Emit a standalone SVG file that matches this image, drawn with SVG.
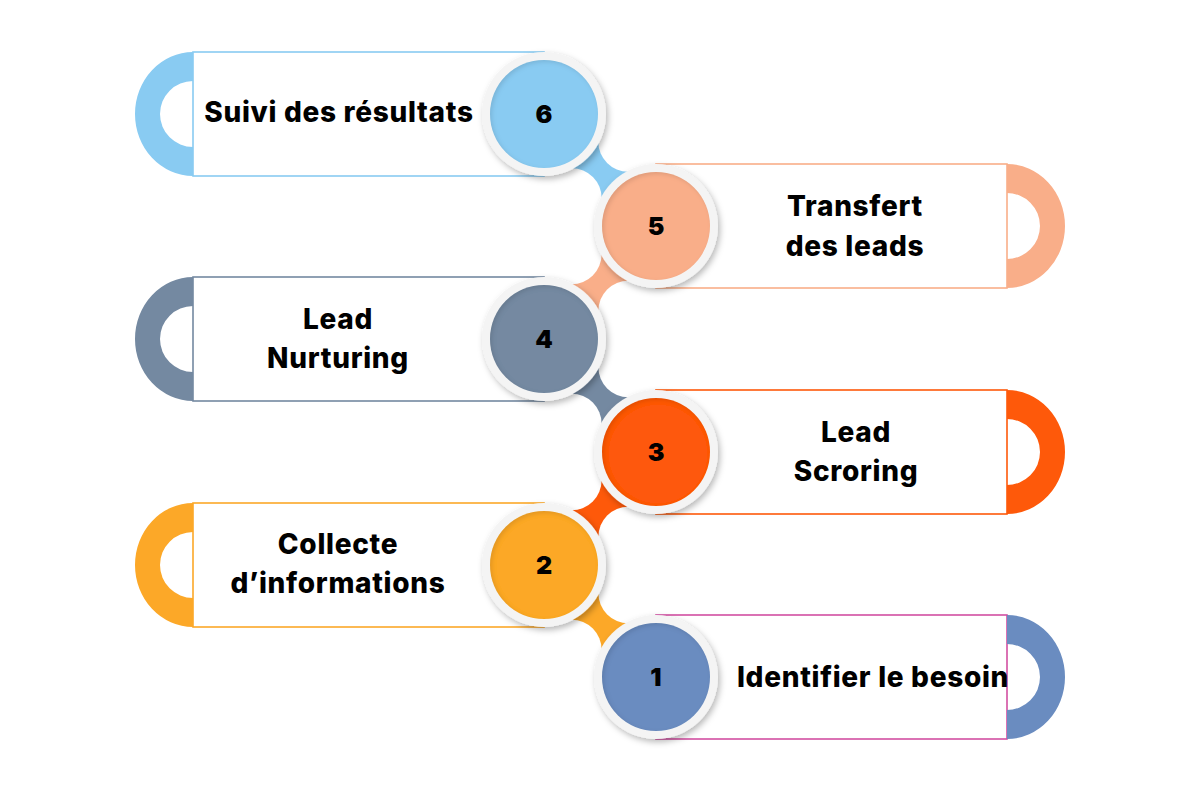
<svg xmlns="http://www.w3.org/2000/svg" width="1200" height="800" viewBox="0 0 1200 800">
<defs>
<style>
.lbl{font-family:Inter,"Open Sans","Liberation Sans",sans-serif;font-weight:800;font-size:28px;letter-spacing:0.7px;fill:#000;text-anchor:middle}
.num{font-family:Inter,"Open Sans","Liberation Sans",sans-serif;font-weight:900;font-size:25px;fill:#000;text-anchor:middle}
.box{fill:#fff;stroke-width:1.6}
.ring{fill:#f4f4f4;filter:url(#ds)}
.carve{fill:#fff}
</style>
<filter id="ds" x="-20%" y="-20%" width="150%" height="150%">
<feDropShadow dx="2" dy="3" stdDeviation="3" flood-color="#000" flood-opacity="0.28"/>
</filter>
<filter id="ins" x="-10%" y="-10%" width="120%" height="120%">
<feGaussianBlur in="SourceAlpha" stdDeviation="2" result="b"/>
<feOffset in="b" dx="2" dy="2" result="o"/>
<feComposite in="SourceAlpha" in2="o" operator="out" result="inv"/>
<feFlood flood-color="#000" flood-opacity="0.22"/>
<feComposite in2="inv" operator="in" result="sh"/>
<feMerge><feMergeNode in="SourceGraphic"/><feMergeNode in="sh"/></feMerge>
</filter>
</defs>
<rect width="1200" height="800" fill="#fff"/>

<g id="connectors">
<line x1="544" y1="114" x2="656" y2="226" stroke="#89CBF2" stroke-width="70"/>
<circle class="carve" cx="628.3" cy="141.7" r="30"/>
<circle class="carve" cx="571.7" cy="198.3" r="30"/>
<line x1="656" y1="226" x2="544" y2="339" stroke="#F9AE89" stroke-width="70"/>
<circle class="carve" cx="628.4" cy="310.7" r="30"/>
<circle class="carve" cx="571.6" cy="254.3" r="30"/>
<line x1="544" y1="339" x2="656" y2="452" stroke="#7489A1" stroke-width="70"/>
<circle class="carve" cx="628.4" cy="367.3" r="30"/>
<circle class="carve" cx="571.6" cy="423.7" r="30"/>
<line x1="656" y1="452" x2="544" y2="565" stroke="#FE590A" stroke-width="70"/>
<circle class="carve" cx="628.4" cy="536.7" r="30"/>
<circle class="carve" cx="571.6" cy="480.3" r="30"/>
<line x1="544" y1="565" x2="656" y2="678" stroke="#FCA828" stroke-width="70"/>
<circle class="carve" cx="628.4" cy="593.3" r="30"/>
<circle class="carve" cx="571.6" cy="649.7" r="30"/>
</g>

<g id="step6">
<rect class="box" x="193" y="52" width="351" height="124" stroke="#89CBF2"/>
<path d="M193 52 A58 62 0 0 0 193 176 L193 147 A33 33 0 0 1 193 81 Z" fill="#89CBF2"/>
<text class="lbl" x="339" y="122">Suivi des résultats</text>
<circle class="ring" cx="544" cy="114" r="62"/>
<circle cx="544" cy="114" r="54" fill="#89CBF2" filter="url(#ins)"/>
<text class="num" x="544" y="123">6</text>
</g>

<g id="step5">
<rect class="box" x="656" y="164" width="351" height="124" stroke="#F9AE89"/>
<path d="M1007 164 A58 62 0 0 1 1007 288 L1007 259 A33 33 0 0 0 1007 193 Z" fill="#F9AE89"/>
<text class="lbl" x="855" y="216">Transfert</text>
<text class="lbl" x="855" y="256">des leads</text>
<circle class="ring" cx="656" cy="226" r="62"/>
<circle cx="656" cy="226" r="54" fill="#F9AE89" filter="url(#ins)"/>
<text class="num" x="656" y="235">5</text>
</g>

<g id="step4">
<rect class="box" x="193" y="277" width="351" height="124" stroke="#7489A1"/>
<path d="M193 277 A58 62 0 0 0 193 401 L193 372 A33 33 0 0 1 193 306 Z" fill="#7489A1"/>
<text class="lbl" x="338" y="329">Lead</text>
<text class="lbl" x="338" y="368">Nurturing</text>
<circle class="ring" cx="544" cy="339" r="62"/>
<circle cx="544" cy="339" r="54" fill="#7489A1" filter="url(#ins)"/>
<text class="num" x="544" y="348">4</text>
</g>

<g id="step3">
<rect class="box" x="656" y="390" width="351" height="124" stroke="#FE590A"/>
<path d="M1007 390 A58 62 0 0 1 1007 514 L1007 485 A33 33 0 0 0 1007 419 Z" fill="#FE590A"/>
<text class="lbl" x="856" y="442">Lead</text>
<text class="lbl" x="856" y="481">Scroring</text>
<circle class="ring" cx="656" cy="452" r="62"/>
<circle cx="656" cy="452" r="54" fill="#FE590A" filter="url(#ins)"/>
<text class="num" x="656" y="461">3</text>
</g>

<g id="step2">
<rect class="box" x="193" y="503" width="351" height="124" stroke="#FCA828"/>
<path d="M193 503 A58 62 0 0 0 193 627 L193 598 A33 33 0 0 1 193 532 Z" fill="#FCA828"/>
<text class="lbl" x="338" y="554">Collecte</text>
<text class="lbl" x="338" y="593">d’informations</text>
<circle class="ring" cx="544" cy="565" r="62"/>
<circle cx="544" cy="565" r="54" fill="#FCA828" filter="url(#ins)"/>
<text class="num" x="544" y="574">2</text>
</g>

<g id="step1">
<rect class="box" x="656" y="615" width="351" height="124" stroke="#D24FA2"/>
<path d="M1007 615 A58 62 0 0 1 1007 739 L1007 710 A33 33 0 0 0 1007 644 Z" fill="#6A8CC0"/>
<text class="lbl" x="873" y="687">Identifier le besoin</text>
<circle class="ring" cx="656" cy="677" r="62"/>
<circle cx="656" cy="677" r="54" fill="#6A8CC0" filter="url(#ins)"/>
<text class="num" x="656" y="686">1</text>
</g>
</svg>
